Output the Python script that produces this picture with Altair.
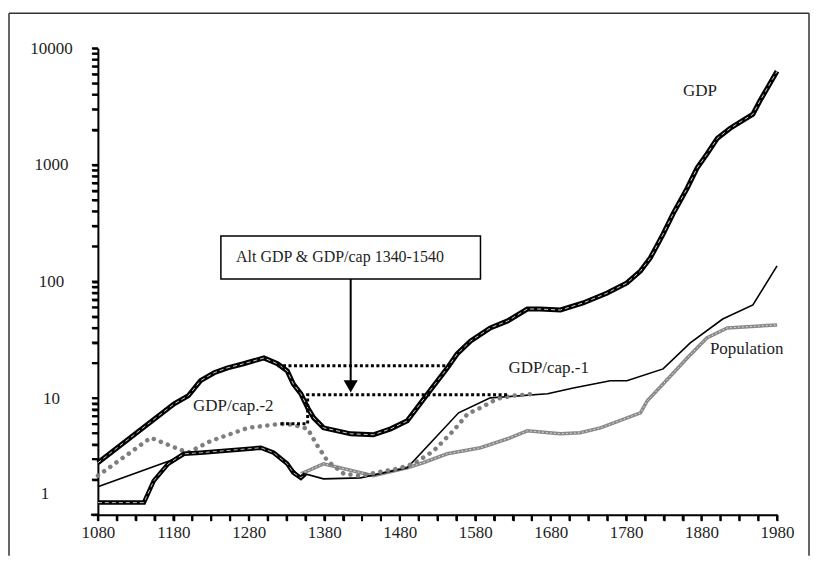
import altair as alt
import pandas as pd

# ---------------- data ----------------
gdp_years = [1080, 1181, 1200, 1216, 1234, 1252, 1273, 1300, 1318, 1331,
             1339, 1349, 1358, 1366, 1379, 1415, 1445, 1468, 1490, 1517,
             1543, 1556, 1574, 1600, 1623, 1649, 1666, 1693, 1723, 1755,
             1781, 1799, 1812, 1829, 1842, 1861, 1874, 1887, 1901, 1918,
             1948, 1957, 1980]
gdp_values = [2.79, 8.93, 10.5, 14.1, 16.5, 18.2, 19.7, 22.1, 19.7, 17.1,
              13.2, 10.9, 8.25, 6.77, 5.56, 4.94, 4.85, 5.45, 6.38, 10.9,
              18.1, 23.9, 30.9, 40.0, 45.9, 58.1, 58.0, 57.0, 65.4, 79.7,
              97.1, 123, 159, 255, 378, 632, 938, 1236, 1695, 2064,
              2722, 3516, 6353]

thick_years = [1080, 1141, 1154, 1173, 1194, 1216, 1296, 1313, 1331, 1339, 1349, 1355]
thick_values = [1.27, 1.27, 1.95, 2.73, 3.33, 3.40, 3.75, 3.40, 2.73, 2.29, 2.07, 2.24]

cap1_years = [1080, 1190, 1199, 1296, 1313, 1331, 1349, 1355, 1379, 1428,
              1490, 1558, 1600, 1676, 1710, 1759, 1781, 1829, 1865, 1908,
              1948, 1980]
cap1_values = [1.74, 3.14, 3.40, 3.75, 3.40, 2.73, 2.07, 2.24, 2.03, 2.07,
               2.53, 7.48, 10.05, 10.9, 12.2, 14.1, 14.1, 17.8, 29.7, 47.7,
               62.9, 136]

pop_years = [1349, 1379, 1445, 1490, 1511, 1543, 1587, 1623, 1649, 1693,
             1719, 1746, 1799, 1808, 1829, 1861, 1887, 1914, 1980]
pop_values = [2.24, 2.73, 2.16, 2.53, 2.79, 3.33, 3.75, 4.48, 5.24, 4.94,
              5.04, 5.56, 7.48, 9.47, 13.2, 22.1, 32.8, 40.0, 42.4]

cap2_years = [1080, 1150, 1199, 1230, 1279, 1322, 1339, 1358, 1371, 1384,
              1406, 1428, 1455, 1477, 1498, 1511, 1525, 1538, 1551, 1570,
              1587, 1609, 1631, 1660]
cap2_values = [2.16, 4.57, 3.40, 4.30, 5.56, 6.02, 5.9, 5.45, 3.90, 2.90,
               2.24, 2.16, 2.34, 2.48, 2.73, 3.08, 3.53, 4.30, 5.24, 7.33,
               8.25, 9.85, 10.5, 10.9]

alt_gdp_years = [1318, 1547]
alt_gdp_values = [18.9, 18.9]
alt_cap_years = [1322, 1358, 1358, 1623]
alt_cap_values = [6.02, 6.02, 10.7, 10.7]

box_x = [1243]
box_x2 = [1587]
box_y = [105]
box_y2 = [245]
box_text = ["Alt GDP & GDP/cap 1340-1540"]
box_text_pos = [1263, 162]
arrow_x = [1415]
arrow_top = [105]
arrow_bottom = [13.5]
arrow_head = [12.6]

series_labels = ["GDP", "GDP/cap.-1", "GDP/cap.-2", "Population"]
label_years = [1878, 1624, 1206, 1891]
label_values = [4283, 18.0, 8.6, 26.4]
label_align = ["center", "left", "left", "left"]

x_ticks = list(range(1080, 1981, 25))
y_ticks = [m * 10 ** k for k in range(4) for m in range(1, 10)] + [10000]

# ---------------- chart ----------------
FONT = "Liberation Serif"
TXT = "#1e1e1e"

xscale = alt.Scale(domain=[1080, 1980], nice=False, zero=False)
yscale = alt.Scale(type="log", domain=[1, 10000], nice=False)

xaxis = alt.Axis(values=x_ticks, title=None, grid=False, ticks=True,
                 labelExpr="(datum.value - 1080) % 100 == 0 ? '' + datum.value : ''",
                 labelFont=FONT, labelFontSize=17, labelColor=TXT,
                 labelOverlap=False, labelFlush=False, labelBound=False,
                 labelPadding=4, tickSize=6, tickWidth=2, tickColor="black",
                 tickOpacity=1, domainColor="black", domainWidth=2)
yaxis = alt.Axis(values=y_ticks, title=None, grid=False, ticks=True,
                 labelExpr="datum.value == 10 || datum.value == 100 || datum.value == 1000 || datum.value == 10000 ? '' + datum.value : ''",
                 labelFont=FONT, labelFontSize=17, labelColor=TXT,
                 labelAlign="center", labelBaseline="middle",
                 labelOverlap=False, labelFlush=False, labelBound=False,
                 labelPadding=41, tickSize=6, tickWidth=2, tickColor="black",
                 tickOpacity=1, domainColor="black", domainWidth=2)

X = alt.X("year:Q", scale=xscale, axis=xaxis)
Y = alt.Y("value:Q", scale=yscale, axis=yaxis)


def frame(years, values):
    return pd.DataFrame({"year": years, "value": values, "i": range(len(years))})


def line(years, values, **kw):
    return alt.Chart(frame(years, values)).mark_line(**kw).encode(x=X, y=Y, order="i:Q")


layers = []
# tick marks drawn through the scales (explicit, so they always show)
layers.append(alt.Chart(pd.DataFrame({"value": y_ticks})).mark_rule(color="black", strokeWidth=2).encode(
    x=alt.value(-6), x2=alt.value(0), y=Y))
layers.append(alt.Chart(pd.DataFrame({"year": x_ticks})).mark_rule(color="black", strokeWidth=2).encode(
    x=X, y=alt.value(467), y2=alt.value(473)))

# population (grey hatched)
layers.append(line(pop_years, pop_values, color="#8a8a8a", strokeWidth=3.5))
layers.append(line(pop_years, pop_values, color="white", strokeWidth=1, strokeDash=[1.5, 2.5], opacity=0.8))
# GDP/cap.-1 thin black
layers.append(line(cap1_years, cap1_values, color="black", strokeWidth=1.6))
# GDP/cap.-2 grey dots
layers.append(line(cap2_years, cap2_values, color="#7f7f7f", strokeWidth=4.5,
                   strokeDash=[0.1, 7.5], strokeCap="round"))
# thick lower line
layers.append(line(thick_years, thick_values, color="black", strokeWidth=4.5))
layers.append(line(thick_years, thick_values, color="#bbbbbb", strokeWidth=1, strokeDash=[4, 3]))
# GDP thick double line
layers.append(line(gdp_years, gdp_values, color="black", strokeWidth=5))
layers.append(line(gdp_years, gdp_values, color="#cfcfcf", strokeWidth=1, strokeDash=[4, 3]))
# alternative GDP and GDP/cap (black dotted)
layers.append(line(alt_gdp_years, alt_gdp_values, color="black", strokeWidth=3, strokeDash=[3, 2.5]))
layers.append(line(alt_cap_years, alt_cap_values, color="black", strokeWidth=3, strokeDash=[3, 2.5]))

# annotation box
box_df = pd.DataFrame({"year": box_x, "year2": box_x2, "value": box_y, "value2": box_y2})
layers.append(alt.Chart(box_df).mark_rect(fill="white", stroke="black", strokeWidth=1.5).encode(
    x=X, x2="year2:Q", y=Y, y2="value2:Q"))
text_df = pd.DataFrame({"year": [box_text_pos[0]], "value": [box_text_pos[1]], "label": box_text})
layers.append(alt.Chart(text_df).mark_text(align="left", baseline="middle", font=FONT,
                                           fontSize=16, color=TXT).encode(x=X, y=Y, text="label:N"))
arrow_df = pd.DataFrame({"year": arrow_x, "value": arrow_top, "value2": arrow_bottom})
layers.append(alt.Chart(arrow_df).mark_rule(color="black", strokeWidth=2).encode(x=X, y=Y, y2="value2:Q"))
head_df = pd.DataFrame({"year": arrow_x, "value": arrow_head})
layers.append(alt.Chart(head_df).mark_point(shape="triangle-down", filled=True, color="black",
                                            size=200, opacity=1).encode(x=X, y=Y))

# series labels
lab_df = pd.DataFrame({"year": label_years, "value": label_values, "label": series_labels,
                       "align": label_align})
for a in ["center", "left"]:
    sub = lab_df[lab_df["align"] == a]
    layers.append(alt.Chart(sub).mark_text(align=a, baseline="middle", font=FONT, fontSize=17,
                                           color=TXT).encode(x=X, y=Y, text="label:N"))

# the "1" axis label, drawn a little above its tick as in the original
one_df = pd.DataFrame({"value": [1.51], "label": ["1"]})
layers.append(alt.Chart(one_df).mark_text(align="center", baseline="middle", font=FONT, fontSize=17,
                                          color=TXT).encode(x=alt.value(-53), y=Y, text="label:N"))

# short stub of the x axis line left of the y axis, as in the original
layers.append(alt.Chart(pd.DataFrame({"k": [0]})).mark_rule(color="black", strokeWidth=2).encode(
    x=alt.value(-7), x2=alt.value(0), y=alt.value(467)))

# outer frame (decoration)
dummy = pd.DataFrame({"k": [0]})
layers.append(alt.Chart(dummy).mark_rule(color="#333333", strokeWidth=1.5).encode(
    x=alt.value(-89), x2=alt.value(712), y=alt.value(-35)))
layers.append(alt.Chart(dummy).mark_rule(color="#333333", strokeWidth=1.5).encode(
    x=alt.value(-89), y=alt.value(-35), y2=alt.value(508)))
layers.append(alt.Chart(dummy).mark_rule(color="#333333", strokeWidth=1.5).encode(
    x=alt.value(712), y=alt.value(-35), y2=alt.value(508)))

chart = alt.layer(*layers).properties(
    width=680, height=467,
    padding={"left": 0, "top": 4, "right": 0, "bottom": 0},
    background="white",
).configure_view(strokeWidth=0)

chart.save("out.html", embed_options={"renderer": "svg", "actions": False})
